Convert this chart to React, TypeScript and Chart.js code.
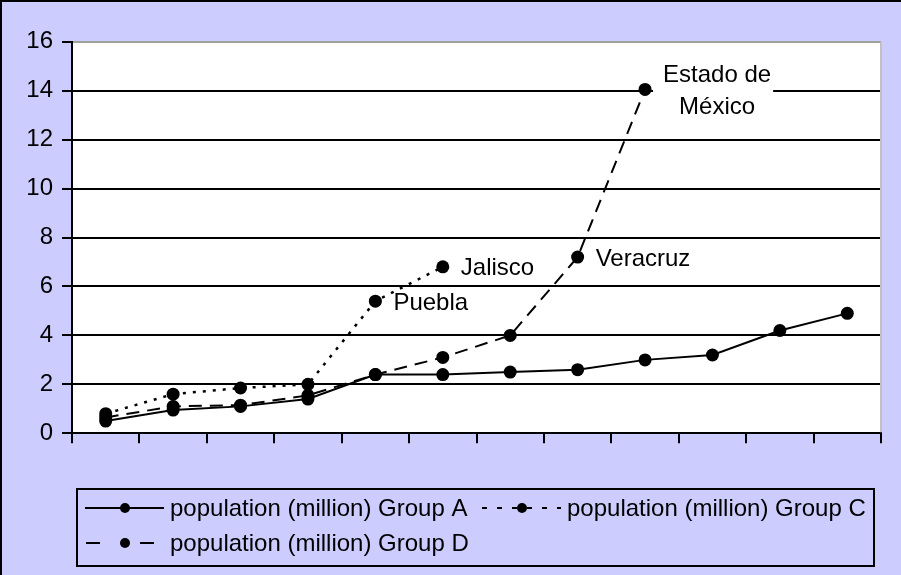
import React, { useEffect, useRef } from 'react';
import { Chart, registerables } from 'chart.js';

Chart.register(...registerables);

// ---- data ----
const categories = ['1', '2', '3', '4', '5', '6', '7', '8', '9', '10', '11', '12'];
const groupA = [0.5, 0.95, 1.1, 1.4, 2.4, 2.4, 2.5, 2.6, 3.0, 3.2, 4.2, 4.9];
const groupC = [0.8, 1.6, 1.85, 2.0, 5.4, 6.8];
const groupD = [0.65, 1.1, 1.15, 1.55, 2.4, 3.1, 4.0, 7.2, 14.05];
const pointLabelsC = ['', '', '', '', 'Puebla', 'Jalisco'];
const pointLabelsD = ['', '', '', '', '', '', '', 'Veracruz', 'Estado de\nMéxico'];
const seriesNames = [
  'population (million) Group A',
  'population (million) Group C',
  'population (million) Group D',
];
const yMin = 0;
const yMax = 16;
const yStep = 2;

const FONT_FAMILY = '"Liberation Sans", Arial, sans-serif';
const BG = '#ccccff';

const backgroundPlugin = {
  id: 'bgPlugin',
  beforeDraw(chart: any) {
    const { ctx, chartArea, width, height } = chart;
    ctx.save();
    ctx.fillStyle = BG;
    ctx.fillRect(0, 0, width, height);
    ctx.fillStyle = '#ffffff';
    ctx.fillRect(chartArea.left, chartArea.top, chartArea.right - chartArea.left, chartArea.bottom - chartArea.top);
    // outer border (left & top)
    ctx.fillStyle = '#000';
    ctx.fillRect(0, 0, 2, height);
    ctx.fillRect(0, 0, width, 2);
    ctx.restore();
  },
  beforeDatasetsDraw(chart: any) {
    const { ctx, chartArea } = chart;
    ctx.save();
    ctx.strokeStyle = '#c0c0c0';
    ctx.lineWidth = 2;
    ctx.beginPath();
    ctx.moveTo(chartArea.right, chartArea.top);
    ctx.lineTo(chartArea.right, chartArea.bottom - 1);
    ctx.stroke();
    ctx.restore();
  },
};

const pointLabelPlugin = {
  id: 'pointLabels',
  afterDatasetsDraw(chart: any) {
    const { ctx } = chart;
    const sets: [number, string[]][] = [
      [1, pointLabelsC],
      [2, pointLabelsD],
    ];
    ctx.save();
    ctx.font = `24px ${FONT_FAMILY}`;
    ctx.fillStyle = '#000';
    ctx.textBaseline = 'middle';
    for (const [di, labels] of sets) {
      const meta = chart.getDatasetMeta(di);
      labels.forEach((txt, i) => {
        if (!txt) return;
        const el = meta.data[i];
        if (!el) return;
        const lines = txt.split('\n');
        const left = el.x + 18;
        if (lines.length === 1) {
          ctx.textAlign = 'left';
          ctx.fillText(txt, left, el.y + 2);
        } else {
          const lh = 32;
          const w = Math.max(...lines.map((l) => ctx.measureText(l).width));
          const y0 = el.y + 2 - ((lines.length - 1) * lh) / 2;
          ctx.fillStyle = '#fff';
          ctx.fillRect(el.x + 8, y0 - 16, left + w + 2 - (el.x + 8), (lines.length - 1) * lh + 32);
          ctx.fillStyle = '#000';
          ctx.textAlign = 'center';
          lines.forEach((l, k) => ctx.fillText(l, left + w / 2, y0 + k * lh));
        }
      });
    }
    ctx.restore();
  },
};

const legendPlugin = {
  id: 'boxLegend',
  afterDraw(chart: any) {
    const { ctx } = chart;
    const box = { x: 77, y: 489, w: 797, h: 77 };
    const items = [
      { x: 85, y: 508, dash: [] as number[] },
      { x: 482, y: 508, dash: [5, 10] },
      { x: 86, y: 543, dash: [14, 40] },
    ];
    ctx.save();
    ctx.strokeStyle = '#000';
    ctx.lineWidth = 2;
    ctx.strokeRect(box.x, box.y, box.w, box.h);
    ctx.font = `24px ${FONT_FAMILY}`;
    ctx.textBaseline = 'middle';
    ctx.textAlign = 'left';
    items.forEach((it, i) => {
      const ds = chart.data.datasets[i];
      ctx.strokeStyle = '#000';
      ctx.lineWidth = 2;
      ctx.setLineDash(it.dash);
      ctx.beginPath();
      ctx.moveTo(it.x, it.y);
      ctx.lineTo(it.x + 79, it.y);
      ctx.stroke();
      ctx.setLineDash([]);
      ctx.fillStyle = '#000';
      ctx.beginPath();
      ctx.arc(85 + (it.x - 85 > 100 ? it.x - 85 : 0) + 40, it.y, 5, 0, Math.PI * 2);
      ctx.fill();
      ctx.fillText(ds.label, (it.x > 100 ? it.x : 85) + 85, it.y + 1);
    });
    ctx.restore();
  },
};

export default function App() {
  const ref = useRef<HTMLCanvasElement | null>(null);

  useEffect(() => {
    if (!ref.current) return;
    const common = {
      borderColor: '#000',
      pointBackgroundColor: '#000',
      pointBorderColor: '#000',
      pointBorderWidth: 0,
      pointRadius: 6.5,
      fill: false,
      tension: 0,
    };
    const chart = new Chart(ref.current, {
      type: 'line',
      data: {
        labels: categories,
        datasets: [
          { ...common, label: seriesNames[0], data: groupA, borderWidth: 2 },
          { ...common, label: seriesNames[1], data: groupC, borderWidth: 2.5, borderDash: [3, 7] },
          { ...common, label: seriesNames[2], data: groupD, borderWidth: 2, borderDash: [13, 8] },
        ],
      },
      options: {
        animation: false,
        responsive: false,
        devicePixelRatio: 1,
        layout: { padding: { top: 41.7, right: 20, left: 0, bottom: 0 } },
        plugins: {
          legend: { display: false },
          tooltip: { enabled: false },
          title: { display: false },
        },
        scales: {
          x: {
            type: 'category',
            offset: true,
            grid: {
              display: true,
              offset: true,
              drawOnChartArea: false,
              drawTicks: true,
              tickLength: 10,
              color: '#000',
              lineWidth: 2,
            },
            border: { display: true, color: '#000', width: 2 },
            ticks: { display: false },
            afterFit: (scale: any) => {
              scale.height = 141.7;
            },
          },
          y: {
            min: yMin,
            max: yMax,
            ticks: {
              stepSize: yStep,
              color: '#000',
              padding: 9,
              font: { family: FONT_FAMILY, size: 24 },
            },
            grid: {
              color: (c: any) => (c.tick && c.tick.value === yMax ? '#a0a0a0' : '#000'),
              tickColor: '#000',
              lineWidth: 2,
              tickLength: 10,
              drawTicks: true,
            },
            border: { display: true, color: '#000', width: 2 },
            afterFit: (scale: any) => {
              scale.width = 72;
            },
          },
        },
      },
      plugins: [backgroundPlugin, pointLabelPlugin, legendPlugin],
    } as any);
    return () => chart.destroy();
  }, []);

  return (
    <div style={{ position: 'fixed', left: 0, top: 0, width: 901, height: 575 }}>
      <canvas ref={ref} width={901} height={575} style={{ display: 'block' }} />
    </div>
  );
}
